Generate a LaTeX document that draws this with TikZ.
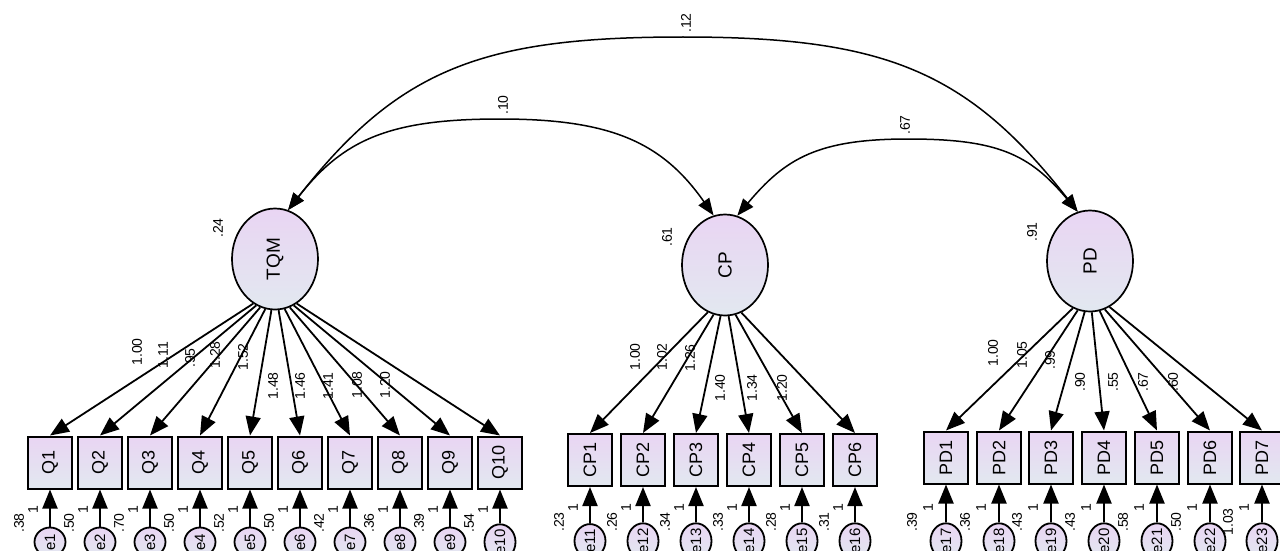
\documentclass[tikz,border=0pt]{standalone}
\usepackage{graphicx}
\usepackage{fontspec}
\setmainfont{Liberation Sans}
\usetikzlibrary{arrows.meta,shapes.geometric}
\definecolor{amostop}{RGB}{233,213,243}
\definecolor{amosbot}{RGB}{226,232,240}

\begin{document}
\begin{tikzpicture}[x=1pt,y=1pt,
                    every node/.style={inner sep=0pt},
                    observed/.style={rectangle, draw=black, line width=2pt,
                      minimum width=44pt, minimum height=52pt,
                      top color=amostop, bottom color=amosbot,
                      font=\fontsize{18}{18}\selectfont},
                    latent/.style={ellipse, draw=black, line width=1.7pt,
                      minimum width=86pt, minimum height=101pt,
                      top color=amostop, bottom color=amosbot,
                      font=\fontsize{19}{19}\selectfont},
                    errvar/.style={ellipse, draw=black, line width=1.8pt,
                      minimum width=31pt, minimum height=29pt,
                      top color=amostop, bottom color=amosbot,
                      font=\fontsize{15}{15}\selectfont},
                    estimate/.style={rotate=90, font=\fontsize{14}{14}\selectfont},
                    loading/.style={-{Triangle[length=19pt,width=15pt]}, line width=1.8pt},
                    errpath/.style={-{Triangle[length=19pt,width=15pt]}, line width=2pt},
                    covariance/.style={{Triangle[length=17pt,width=13pt]}-{Triangle[length=17pt,width=13pt]}, line width=1.5pt}]
  \useasboundingbox (0,0) rectangle (1280,-551);

  % latent factors
  \node[latent] (TQM) at (275,-259) {\rotatebox{90}{TQM}};
  \node[latent] (CP) at (725,-265) {\rotatebox{90}{CP}};
  \node[latent] (PD) at (1090,-261) {\rotatebox{90}{PD}};
  \node[estimate] (vTQM) at (218,-228) {.24};
  \node[estimate] (vCP) at (667,-237) {.61};
  \node[estimate] (vPD) at (1032,-232) {.91};

  % covariances
  \draw[covariance] (TQM.75) .. controls +(52:180) and +(-200,0) .. (683,-37)
                    .. controls +(200,0) and +(128:180) .. (PD.104);
  \draw[covariance] (TQM.75) .. controls +(52:90) and +(-110,0) .. (500,-119)
                    .. controls +(110,0) and +(125:90) .. (CP.103.5);
  \draw[covariance] (CP.76) .. controls +(50:75) and +(-90,0) .. (908,-139)
                    .. controls +(90,0) and +(130:75) .. (PD.104);
  \node[estimate] (cTQMPD) at (686,-23) {.12};
  \node[estimate] (cTQMCP) at (503,-105) {.10};
  \node[estimate] (cCPPD) at (905,-125) {.67};

  % TQM items
  \foreach \i/\px/\lam/\ang/\lx/\ly/\var in {1/50/1.00/244/137/352/.38, 2/100/1.11/248/163/355/.50,
      3/150/.95/253/190/358/.70, 4/200/1.28/259/215/355/.50, 5/250/1.52/266/243/357/.52,
      6/300/1.48/274/273/386/.50, 7/350/1.46/281/300/386/.42, 8/400/1.41/287/328/386/.36,
      9/450/1.08/292/357/385/.39, 10/500/1.20/296/385/385/.54} {
    \node[observed] (Q\i) at (\px,-462.5) {\rotatebox{90}{Q\i}};
    \node[errvar] (e\i) at (\px,-542) {\rotatebox{90}{e\i}};
    \draw[errpath] (e\i.north) -- (Q\i.south);
    \draw[loading] (TQM.\ang) -- (Q\i.north);
    \node[estimate] (wQ\i) at (\lx,-\ly) {\lam};
    \node[estimate] (oQ\i) at ({\px-17},-510) {1};
    \node[estimate] (vQ\i) at ({\px-31},-523) {\var};
  }

  % CP items
  \foreach \i/\e/\px/\lam/\ang/\lx/\ly/\var in {1/11/590/1.00/250.5/635/357/.23, 2/12/643/1.02/257/662/357/.26,
      3/13/696/1.26/265/690/358/.34, 4/14/749/1.40/274/720/388/.33,
      5/15/802/1.34/282/752/388/.28, 6/16/855/1.20/289/782/388/.31} {
    \node[observed] (CP\i) at (\px,-460) {\rotatebox{90}{CP\i}};
    \node[errvar] (e\e) at (\px,-541) {\rotatebox{90}{e\e}};
    \draw[errpath] (e\e.north) -- (CP\i.south);
    \draw[loading] (CP.\ang) -- (CP\i.north);
    \node[estimate] (wCP\i) at (\lx,-\ly) {\lam};
    \node[estimate] (oCP\i) at ({\px-17},-508) {1};
    \node[estimate] (vCP\i) at ({\px-31},-522) {\var};
  }

  % PD items
  \foreach \i/\e/\px/\lam/\ang/\lx/\ly/\var in {1/17/946/1.00/250/993/353/.39, 2/18/999/1.05/256/1022/355/.36,
      3/19/1051/.99/264/1050/360/.43, 4/20/1104/.90/272/1080/382/.43,
      5/21/1157/.55/281/1113/382/.58, 6/22/1210/.67/287.5/1143/382/.50,
      7/23/1262/.60/293/1173/382/1.03} {
    \node[observed] (PD\i) at (\px,-457.5) {\rotatebox{90}{PD\i}};
    \node[errvar] (e\e) at (\px,-541) {\rotatebox{90}{e\e}};
    \draw[errpath] (e\e.north) -- (PD\i.south);
    \draw[loading] (PD.\ang) -- (PD\i.north);
    \node[estimate] (wPD\i) at (\lx,-\ly) {\lam};
    \node[estimate] (oPD\i) at ({\px-18},-508) {1};
    \node[estimate] (vPD\i) at ({\px-34},-522) {\var};
  }
\end{tikzpicture}
\end{document}
